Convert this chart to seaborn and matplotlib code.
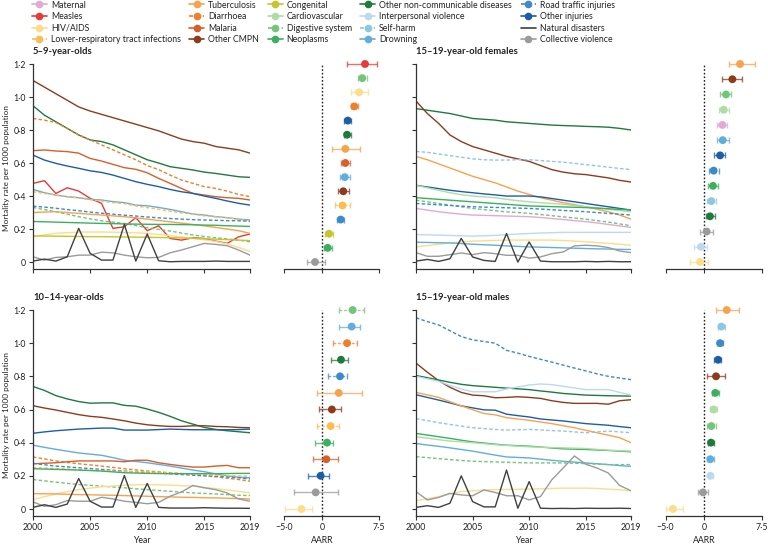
import numpy as np
import pandas as pd
import matplotlib
matplotlib.use("Agg")
import matplotlib.pyplot as plt
import seaborn as sns
from matplotlib.lines import Line2D
from matplotlib.ticker import FuncFormatter

sns.set_theme(style="ticks")
plt.rcParams['font.family'] = ['Lato', 'DejaVu Sans']

YEARS = list(range(2000, 2020))

# ---- 5-9-year-olds: mortality per 1000 ----
a59_other_cmpn = [1.10, 1.06, 1.02, 0.98, 0.94, 0.915, 0.895, 0.875, 0.855, 0.835, 0.815, 0.795, 0.77, 0.745, 0.73, 0.72, 0.70, 0.69, 0.68, 0.66]
a59_other_ncd = [0.947, 0.89, 0.85, 0.81, 0.77, 0.74, 0.73, 0.71, 0.68, 0.65, 0.62, 0.60, 0.578, 0.568, 0.558, 0.545, 0.537, 0.527, 0.517, 0.513]
a59_diarrhoea = [0.87, 0.86, 0.845, 0.81, 0.77, 0.74, 0.71, 0.68, 0.65, 0.62, 0.585, 0.56, 0.527, 0.497, 0.477, 0.457, 0.446, 0.43, 0.41, 0.396]
a59_malaria = [0.675, 0.679, 0.673, 0.669, 0.66, 0.628, 0.612, 0.592, 0.572, 0.562, 0.541, 0.507, 0.477, 0.446, 0.416, 0.406, 0.396, 0.39, 0.386, 0.376]
a59_other_inj = [0.648, 0.618, 0.598, 0.582, 0.568, 0.553, 0.543, 0.527, 0.507, 0.487, 0.471, 0.457, 0.44, 0.426, 0.416, 0.40, 0.386, 0.37, 0.356, 0.345]
a59_measles = [0.477, 0.493, 0.416, 0.45, 0.43, 0.386, 0.356, 0.204, 0.214, 0.269, 0.19, 0.22, 0.143, 0.133, 0.147, 0.143, 0.127, 0.113, 0.153, 0.17]
a59_drowning = [0.44, 0.42, 0.406, 0.396, 0.39, 0.38, 0.376, 0.366, 0.36, 0.345, 0.341, 0.331, 0.319, 0.305, 0.291, 0.285, 0.275, 0.269, 0.26, 0.255]
a59_lri = [0.426, 0.416, 0.406, 0.396, 0.388, 0.378, 0.37, 0.36, 0.354, 0.34, 0.33, 0.32, 0.308, 0.298, 0.29, 0.28, 0.274, 0.268, 0.258, 0.25]
a59_road = [0.339, 0.333, 0.326, 0.318, 0.311, 0.303, 0.296, 0.29, 0.284, 0.279, 0.273, 0.268, 0.264, 0.26, 0.257, 0.255, 0.253, 0.251, 0.25, 0.248]
a59_digestive = [0.331, 0.318, 0.305, 0.29, 0.275, 0.262, 0.25, 0.242, 0.234, 0.221, 0.208, 0.198, 0.188, 0.176, 0.164, 0.155, 0.147, 0.14, 0.133, 0.123]
a59_tb = [0.30, 0.303, 0.305, 0.30, 0.295, 0.29, 0.285, 0.28, 0.275, 0.268, 0.26, 0.252, 0.244, 0.236, 0.228, 0.219, 0.21, 0.20, 0.19, 0.174]
a59_neoplasms = [0.246, 0.244, 0.242, 0.24, 0.238, 0.236, 0.234, 0.233, 0.231, 0.23, 0.229, 0.228, 0.228, 0.227, 0.226, 0.224, 0.223, 0.22, 0.218, 0.216]
a59_hiv = [0.154, 0.165, 0.174, 0.178, 0.182, 0.182, 0.182, 0.181, 0.18, 0.177, 0.174, 0.167, 0.16, 0.152, 0.143, 0.135, 0.125, 0.11, 0.088, 0.065]
a59_congenital = [0.158, 0.158, 0.157, 0.156, 0.155, 0.154, 0.154, 0.153, 0.152, 0.151, 0.15, 0.149, 0.148, 0.146, 0.144, 0.141, 0.139, 0.136, 0.133, 0.13]
a59_collective = [0.032, 0.012, 0.028, 0.032, 0.042, 0.042, 0.06, 0.056, 0.042, 0.032, 0.026, 0.028, 0.056, 0.073, 0.093, 0.113, 0.107, 0.099, 0.073, 0.042]
a59_natural = [0.006, 0.018, 0.006, 0.032, 0.204, 0.053, 0.012, 0.012, 0.228, 0.006, 0.17, 0.008, 0.002, 0.004, 0.004, 0.004, 0.006, 0.004, 0.004, 0.004]

a59_aarr_causes = ["Measles", "Digestive system", "HIV/AIDS", "Diarrhoea", "Other injuries",
                   "Other non-communicable diseases", "Tuberculosis", "Malaria", "Drowning", "Other CMPN",
                   "Lower-respiratory tract infections", "Road traffic injuries", "Congenital", "Neoplasms",
                   "Collective violence"]
a59_aarr = [5.66, 5.3, 4.87, 4.25, 3.4, 3.3, 3.07, 3.07, 3.0, 2.8, 2.7, 2.46, 0.92, 0.75, -0.92]
a59_lo = [3.3, 4.8, 3.8, 3.8, 2.9, 2.85, 1.36, 2.46, 2.4, 2.15, 1.75, 2.0, 0.44, 0.3, -1.93]
a59_hi = [7.2, 5.9, 6.0, 4.8, 3.86, 3.8, 5.0, 3.73, 3.7, 3.6, 3.7, 2.9, 1.5, 1.27, 0.44]

# ---- 10-14-year-olds ----
a1014_other_ncd = [0.739, 0.715, 0.684, 0.664, 0.648, 0.638, 0.64, 0.64, 0.625, 0.62, 0.603, 0.583, 0.559, 0.532, 0.512, 0.492, 0.48, 0.472, 0.466, 0.46]
a1014_other_cmpn = [0.623, 0.609, 0.597, 0.583, 0.569, 0.559, 0.553, 0.543, 0.532, 0.518, 0.508, 0.502, 0.498, 0.498, 0.502, 0.502, 0.498, 0.496, 0.492, 0.49]
a1014_other_inj = [0.457, 0.465, 0.472, 0.477, 0.482, 0.485, 0.488, 0.488, 0.476, 0.476, 0.476, 0.479, 0.482, 0.48, 0.478, 0.478, 0.478, 0.478, 0.479, 0.482]
a1014_drowning = [0.385, 0.372, 0.36, 0.349, 0.338, 0.331, 0.324, 0.31, 0.294, 0.287, 0.279, 0.269, 0.259, 0.247, 0.235, 0.225, 0.212, 0.2, 0.192, 0.188]
a1014_diarrhoea = [0.314, 0.302, 0.29, 0.281, 0.273, 0.266, 0.259, 0.251, 0.243, 0.236, 0.229, 0.224, 0.219, 0.214, 0.209, 0.202, 0.194, 0.186, 0.178, 0.168]
a1014_malaria = [0.273, 0.276, 0.279, 0.285, 0.29, 0.29, 0.29, 0.29, 0.285, 0.294, 0.294, 0.279, 0.269, 0.26, 0.253, 0.253, 0.259, 0.263, 0.249, 0.249]
a1014_road = [0.275, 0.267, 0.259, 0.254, 0.249, 0.244, 0.239, 0.234, 0.229, 0.224, 0.219, 0.216, 0.213, 0.208, 0.204, 0.2, 0.198, 0.193, 0.188, 0.182]
a1014_lri = [0.25, 0.247, 0.244, 0.241, 0.238, 0.234, 0.231, 0.228, 0.226, 0.224, 0.223, 0.22, 0.217, 0.214, 0.211, 0.208, 0.205, 0.202, 0.2, 0.198]
a1014_neoplasms = [0.243, 0.241, 0.239, 0.237, 0.235, 0.232, 0.229, 0.224, 0.219, 0.217, 0.215, 0.214, 0.213, 0.213, 0.213, 0.213, 0.213, 0.214, 0.215, 0.215]
a1014_digestive = [0.178, 0.17, 0.162, 0.155, 0.148, 0.143, 0.138, 0.133, 0.128, 0.122, 0.117, 0.112, 0.107, 0.102, 0.097, 0.094, 0.091, 0.087, 0.083, 0.081]
a1014_hiv = [0.057, 0.074, 0.091, 0.104, 0.117, 0.126, 0.134, 0.139, 0.144, 0.146, 0.148, 0.146, 0.144, 0.141, 0.138, 0.131, 0.123, 0.115, 0.107, 0.097]
a1014_tb = [0.093, 0.092, 0.091, 0.089, 0.087, 0.086, 0.084, 0.083, 0.081, 0.079, 0.077, 0.075, 0.073, 0.071, 0.07, 0.068, 0.067, 0.065, 0.063, 0.061]
a1014_collective = [0.043, 0.016, 0.026, 0.051, 0.047, 0.047, 0.071, 0.061, 0.047, 0.04, 0.032, 0.04, 0.077, 0.103, 0.142, 0.128, 0.117, 0.097, 0.061, 0.047]
a1014_natural = [0.01, 0.026, 0.01, 0.03, 0.184, 0.047, 0.012, 0.012, 0.202, 0.01, 0.154, 0.01, 0.006, 0.006, 0.006, 0.008, 0.006, 0.005, 0.005, 0.004]

a1014_aarr_causes = ["Digestive system", "Drowning", "Diarrhoea", "Other non-communicable diseases",
                     "Road traffic injuries", "Tuberculosis", "Other CMPN", "Lower-respiratory tract infections",
                     "Neoplasms", "Malaria", "Other injuries", "Collective violence", "HIV/AIDS"]
a1014_aarr = [4.03, 3.9, 3.3, 2.5, 2.37, 2.2, 1.3, 1.14, 0.66, 0.57, -0.18, -0.83, -2.7]
a1014_lo = [2.2, 2.3, 1.5, 1.2, 0.83, -0.7, -0.4, -0.6, -0.9, -1.2, -1.8, -3.7, -4.87]
a1014_hi = [5.5, 5.0, 4.6, 3.46, 3.3, 5.2, 2.5, 2.3, 1.45, 2.1, 0.88, 2.1, -1.36]

# ---- 15-19-year-old females ----
f1519_other_ncd = [0.93, 0.92, 0.91, 0.90, 0.885, 0.87, 0.865, 0.86, 0.85, 0.845, 0.84, 0.835, 0.83, 0.827, 0.825, 0.822, 0.82, 0.817, 0.81, 0.80]
f1519_other_cmpn = [0.976, 0.9, 0.84, 0.77, 0.73, 0.70, 0.68, 0.66, 0.64, 0.625, 0.61, 0.585, 0.56, 0.545, 0.535, 0.53, 0.52, 0.51, 0.495, 0.485]
f1519_self_harm = [0.67, 0.665, 0.655, 0.645, 0.635, 0.625, 0.62, 0.618, 0.618, 0.62, 0.62, 0.615, 0.61, 0.605, 0.598, 0.59, 0.583, 0.575, 0.567, 0.56]
f1519_tb = [0.64, 0.62, 0.595, 0.57, 0.545, 0.52, 0.5, 0.48, 0.455, 0.43, 0.41, 0.39, 0.375, 0.36, 0.348, 0.335, 0.32, 0.305, 0.285, 0.26]
f1519_other_inj = [0.465, 0.455, 0.445, 0.435, 0.427, 0.42, 0.413, 0.407, 0.40, 0.40, 0.40, 0.395, 0.385, 0.375, 0.365, 0.355, 0.345, 0.335, 0.325, 0.315]
f1519_cardio = [0.465, 0.45, 0.435, 0.42, 0.408, 0.40, 0.395, 0.39, 0.38, 0.372, 0.365, 0.36, 0.355, 0.35, 0.342, 0.335, 0.328, 0.32, 0.312, 0.305]
f1519_neoplasms = [0.39, 0.385, 0.38, 0.375, 0.37, 0.365, 0.36, 0.355, 0.35, 0.345, 0.34, 0.338, 0.336, 0.334, 0.332, 0.33, 0.327, 0.323, 0.319, 0.315]
f1519_digestive = [0.375, 0.365, 0.355, 0.345, 0.335, 0.325, 0.318, 0.311, 0.304, 0.3, 0.295, 0.288, 0.281, 0.274, 0.267, 0.26, 0.251, 0.242, 0.231, 0.22]
f1519_road = [0.355, 0.351, 0.347, 0.343, 0.339, 0.335, 0.333, 0.331, 0.329, 0.327, 0.325, 0.321, 0.317, 0.313, 0.309, 0.305, 0.3, 0.295, 0.29, 0.285]
f1519_maternal = [0.325, 0.315, 0.305, 0.297, 0.29, 0.285, 0.283, 0.281, 0.279, 0.277, 0.275, 0.27, 0.264, 0.258, 0.251, 0.245, 0.237, 0.228, 0.219, 0.21]
f1519_interpersonal = [0.167, 0.165, 0.163, 0.161, 0.159, 0.157, 0.159, 0.162, 0.166, 0.17, 0.173, 0.176, 0.178, 0.18, 0.18, 0.18, 0.18, 0.18, 0.18, 0.18]
f1519_hiv = [0.092, 0.1, 0.108, 0.116, 0.122, 0.127, 0.129, 0.131, 0.133, 0.133, 0.133, 0.133, 0.133, 0.131, 0.127, 0.123, 0.118, 0.113, 0.108, 0.102]
f1519_drowning = [0.12, 0.119, 0.117, 0.116, 0.112, 0.108, 0.105, 0.102, 0.098, 0.095, 0.092, 0.09, 0.088, 0.086, 0.084, 0.082, 0.08, 0.079, 0.077, 0.076]
f1519_collective = [0.057, 0.035, 0.035, 0.045, 0.055, 0.045, 0.057, 0.051, 0.041, 0.041, 0.024, 0.031, 0.051, 0.061, 0.098, 0.102, 0.098, 0.088, 0.067, 0.057]
f1519_natural = [0.006, 0.016, 0.004, 0.02, 0.143, 0.031, 0.01, 0.004, 0.173, 0.0, 0.122, 0.006, 0.002, 0.002, 0.002, 0.004, 0.002, 0.004, 0.002, 0.002]

f1519_aarr_causes = ["Tuberculosis", "Other CMPN", "Digestive system", "Cardiovascular", "Maternal",
                     "Drowning", "Other injuries", "Road traffic injuries", "Neoplasms", "Self-harm",
                     "Other non-communicable diseases", "Collective violence", "Interpersonal violence", "HIV/AIDS"]
f1519_aarr = [4.7, 3.7, 2.87, 2.57, 2.4, 2.44, 2.1, 1.26, 1.17, 0.96, 0.78, 0.35, -0.4, -0.52]
f1519_lo = [3.2, 2.4, 2.1, 1.9, 1.7, 1.7, 1.35, 0.6, 0.52, 0.35, 0.26, -0.52, -1.27, -1.8]
f1519_hi = [6.7, 4.9, 3.56, 3.2, 3.04, 3.2, 2.8, 1.9, 1.8, 1.6, 1.4, 1.2, 0.43, 0.48]

# ---- 15-19-year-old males ----
m1519_road = [1.153, 1.13, 1.11, 1.075, 1.04, 1.02, 1.01, 1.0, 0.957, 0.94, 0.92, 0.903, 0.886, 0.868, 0.85, 0.833, 0.815, 0.80, 0.79, 0.78]
m1519_other_cmpn = [0.88, 0.825, 0.774, 0.734, 0.703, 0.687, 0.683, 0.671, 0.673, 0.677, 0.673, 0.667, 0.653, 0.643, 0.637, 0.637, 0.637, 0.632, 0.653, 0.659]
m1519_other_ncd = [0.805, 0.792, 0.778, 0.764, 0.752, 0.744, 0.739, 0.734, 0.729, 0.725, 0.72, 0.712, 0.705, 0.697, 0.692, 0.687, 0.685, 0.683, 0.682, 0.681]
m1519_interpersonal = [0.80, 0.785, 0.77, 0.745, 0.724, 0.707, 0.707, 0.707, 0.724, 0.736, 0.748, 0.754, 0.75, 0.74, 0.73, 0.72, 0.72, 0.72, 0.703, 0.687]
m1519_other_inj = [0.689, 0.673, 0.657, 0.64, 0.622, 0.61, 0.598, 0.596, 0.572, 0.563, 0.555, 0.543, 0.537, 0.531, 0.523, 0.515, 0.51, 0.505, 0.497, 0.49]
m1519_tb = [0.703, 0.688, 0.673, 0.647, 0.622, 0.599, 0.576, 0.568, 0.551, 0.543, 0.535, 0.525, 0.515, 0.502, 0.49, 0.475, 0.46, 0.445, 0.43, 0.40]
m1519_self_harm = [0.545, 0.533, 0.521, 0.51, 0.5, 0.49, 0.485, 0.48, 0.476, 0.478, 0.48, 0.477, 0.473, 0.47, 0.465, 0.46, 0.465, 0.47, 0.465, 0.46]
m1519_neoplasms = [0.456, 0.446, 0.436, 0.426, 0.415, 0.405, 0.398, 0.391, 0.385, 0.382, 0.379, 0.374, 0.368, 0.363, 0.361, 0.359, 0.356, 0.353, 0.349, 0.345]
m1519_cardio = [0.436, 0.427, 0.418, 0.41, 0.405, 0.40, 0.394, 0.388, 0.383, 0.379, 0.375, 0.373, 0.371, 0.369, 0.367, 0.365, 0.36, 0.355, 0.352, 0.349]
m1519_drowning = [0.395, 0.386, 0.378, 0.369, 0.359, 0.349, 0.337, 0.325, 0.314, 0.311, 0.308, 0.301, 0.294, 0.288, 0.283, 0.278, 0.273, 0.268, 0.262, 0.257]
m1519_digestive = [0.316, 0.31, 0.304, 0.298, 0.293, 0.288, 0.286, 0.284, 0.282, 0.28, 0.278, 0.278, 0.278, 0.278, 0.276, 0.274, 0.271, 0.268, 0.268, 0.268]
m1519_hiv = [0.05, 0.062, 0.075, 0.09, 0.105, 0.11, 0.115, 0.117, 0.118, 0.119, 0.12, 0.122, 0.124, 0.126, 0.126, 0.126, 0.124, 0.12, 0.116, 0.11]
m1519_collective = [0.105, 0.055, 0.07, 0.095, 0.085, 0.08, 0.115, 0.10, 0.08, 0.08, 0.055, 0.075, 0.176, 0.247, 0.32, 0.27, 0.247, 0.217, 0.142, 0.11]
m1519_natural = [0.01, 0.02, 0.01, 0.035, 0.2, 0.045, 0.013, 0.013, 0.235, 0.005, 0.165, 0.005, 0.003, 0.004, 0.003, 0.005, 0.004, 0.004, 0.005, 0.003]

m1519_aarr_causes = ["Tuberculosis", "Self-harm", "Road traffic injuries", "Other injuries", "Other CMPN",
                     "Neoplasms", "Cardiovascular", "Digestive system", "Other non-communicable diseases",
                     "Drowning", "Interpersonal violence", "Collective violence", "HIV/AIDS"]
m1519_aarr = [2.97, 2.27, 2.1, 1.84, 1.57, 1.48, 1.26, 0.96, 0.91, 0.82, 0.82, -0.13, -4.05]
m1519_lo = [1.57, 1.8, 1.75, 1.3, 0.35, 1.0, 0.78, 0.43, 0.56, 0.43, 0.52, -0.83, -5.0]
m1519_hi = [4.6, 2.76, 2.5, 2.27, 2.8, 1.9, 1.75, 1.52, 1.3, 1.26, 1.13, 0.56, -2.74]

# cause colours, legend order
LEGEND_ORDER = ["Maternal", "Measles", "HIV/AIDS", "Lower-respiratory tract infections",
                "Tuberculosis", "Diarrhoea", "Malaria", "Other CMPN",
                "Congenital", "Cardiovascular", "Digestive system", "Neoplasms",
                "Other non-communicable diseases", "Interpersonal violence", "Self-harm", "Drowning",
                "Road traffic injuries", "Other injuries", "Natural disasters", "Collective violence"]
COLORS = {
    "Maternal": "#e2a9d6", "Measles": "#e8393b", "HIV/AIDS": "#fddc8a",
    "Lower-respiratory tract infections": "#fbbd50", "Tuberculosis": "#f9a24c",
    "Diarrhoea": "#f07f2c", "Malaria": "#d75f29", "Other CMPN": "#8e3b1c",
    "Congenital": "#c3c62d", "Cardiovascular": "#addda4", "Digestive system": "#72c57a",
    "Neoplasms": "#3bb05e", "Other non-communicable diseases": "#1f7a3e",
    "Interpersonal violence": "#bcd9ef", "Self-harm": "#8ec7e2", "Drowning": "#62ade0",
    "Road traffic injuries": "#3d8ac9", "Other injuries": "#1c5da8",
    "Natural disasters": "#404040", "Collective violence": "#9b9b9b",
}
DASHED = {"Lower-respiratory tract infections", "Diarrhoea", "Digestive system",
          "Self-harm", "Road traffic injuries"}

panels = [
    ("5–9-year-olds", [
        ("Other CMPN", a59_other_cmpn), ("Other non-communicable diseases", a59_other_ncd),
        ("Diarrhoea", a59_diarrhoea), ("Malaria", a59_malaria), ("Other injuries", a59_other_inj),
        ("Measles", a59_measles), ("Drowning", a59_drowning), ("Lower-respiratory tract infections", a59_lri),
        ("Road traffic injuries", a59_road), ("Digestive system", a59_digestive), ("Tuberculosis", a59_tb),
        ("Neoplasms", a59_neoplasms), ("HIV/AIDS", a59_hiv), ("Congenital", a59_congenital),
        ("Collective violence", a59_collective), ("Natural disasters", a59_natural)],
     (a59_aarr_causes, a59_aarr, a59_lo, a59_hi)),
    ("15–19-year-old females", [
        ("Other non-communicable diseases", f1519_other_ncd), ("Other CMPN", f1519_other_cmpn),
        ("Self-harm", f1519_self_harm), ("Tuberculosis", f1519_tb), ("Other injuries", f1519_other_inj),
        ("Cardiovascular", f1519_cardio), ("Neoplasms", f1519_neoplasms), ("Digestive system", f1519_digestive),
        ("Road traffic injuries", f1519_road), ("Maternal", f1519_maternal),
        ("Interpersonal violence", f1519_interpersonal), ("HIV/AIDS", f1519_hiv), ("Drowning", f1519_drowning),
        ("Collective violence", f1519_collective), ("Natural disasters", f1519_natural)],
     (f1519_aarr_causes, f1519_aarr, f1519_lo, f1519_hi)),
    ("10–14-year-olds", [
        ("Other non-communicable diseases", a1014_other_ncd), ("Other CMPN", a1014_other_cmpn),
        ("Other injuries", a1014_other_inj), ("Drowning", a1014_drowning), ("Diarrhoea", a1014_diarrhoea),
        ("Malaria", a1014_malaria), ("Road traffic injuries", a1014_road),
        ("Lower-respiratory tract infections", a1014_lri), ("Neoplasms", a1014_neoplasms),
        ("Digestive system", a1014_digestive), ("HIV/AIDS", a1014_hiv), ("Tuberculosis", a1014_tb),
        ("Collective violence", a1014_collective), ("Natural disasters", a1014_natural)],
     (a1014_aarr_causes, a1014_aarr, a1014_lo, a1014_hi)),
    ("15–19-year-old males", [
        ("Road traffic injuries", m1519_road), ("Other CMPN", m1519_other_cmpn),
        ("Other non-communicable diseases", m1519_other_ncd), ("Interpersonal violence", m1519_interpersonal),
        ("Other injuries", m1519_other_inj), ("Tuberculosis", m1519_tb), ("Self-harm", m1519_self_harm),
        ("Neoplasms", m1519_neoplasms), ("Cardiovascular", m1519_cardio), ("Drowning", m1519_drowning),
        ("Digestive system", m1519_digestive), ("HIV/AIDS", m1519_hiv),
        ("Collective violence", m1519_collective), ("Natural disasters", m1519_natural)],
     (m1519_aarr_causes, m1519_aarr, m1519_lo, m1519_hi)),
]

AX_COLOR = "#333333"
FS = 6.3


def dec(v, pos=None):
    if abs(v) < 1e-9:
        return "0"
    return "{0:.1f}".format(v).replace(".", "·").replace("-", "−")


def style_axis(ax):
    for s in ["top", "right"]:
        ax.spines[s].set_visible(False)
    for s in ["left", "bottom"]:
        ax.spines[s].set_color(AX_COLOR)
        ax.spines[s].set_linewidth(0.9)
    ax.tick_params(direction="out", length=3, width=0.8, color=AX_COLOR,
                   labelsize=FS, labelcolor="#222222", pad=2)


def draw_lines(ax, title, series, left_col, bottom_row):
    rows = []
    for cause, vals in series:
        for yr, v in zip(YEARS, vals):
            rows.append((cause, yr, v))
    df = pd.DataFrame(rows, columns=["cause", "year", "rate"])
    order = [c for c, _ in series]
    sns.lineplot(data=df, x="year", y="rate", hue="cause", hue_order=order,
                 palette={c: COLORS[c] for c in order}, style="cause", style_order=order,
                 dashes={c: (2.5, 1.6) if c in DASHED else "" for c in order},
                 linewidth=1.0, estimator=None, legend=False, ax=ax)
    ax.set_xlim(2000, 2019)
    ax.set_ylim(-0.042, 1.2)
    ax.set_xticks([2000, 2005, 2010, 2015, 2019])
    ax.set_yticks([0, 0.2, 0.4, 0.6, 0.8, 1.0, 1.2])
    ax.yaxis.set_major_formatter(FuncFormatter(dec))
    style_axis(ax)
    ax.set_title(title, loc="left", fontsize=6.8, fontweight="bold", pad=7, color="#222222")
    if left_col:
        ax.set_ylabel("Mortality rate per 1000 population", fontsize=5.9, color="#222222")
        ax.yaxis.set_label_coords(-23 / 217, 0.49)
    else:
        ax.set_ylabel("")
        ax.tick_params(labelleft=False)
    if bottom_row:
        ax.set_xlabel("Year", fontsize=FS, color="#222222", labelpad=3)
    else:
        ax.set_xlabel("")
        ax.tick_params(labelbottom=False)


def draw_aarr(ax, causes, est, lo, hi, bottom_row):
    n = len(causes)
    for i, c in enumerate(causes):
        eb = ax.errorbar(est[i], i, xerr=[[est[i] - lo[i]], [hi[i] - est[i]]], fmt="none",
                         ecolor=COLORS[c], alpha=0.75, elinewidth=1.0, capsize=2.2, capthick=1.0,
                         clip_on=False, zorder=2)
        if c in DASHED:
            eb[2][0].set_linestyle((0, (2, 1.3)))
    df = pd.DataFrame({"cause": causes, "aarr": est, "row": np.arange(n)})
    sns.scatterplot(data=df, x="aarr", y="row", hue="cause", hue_order=causes,
                    palette={c: COLORS[c] for c in causes}, s=32, edgecolor="none",
                    legend=False, ax=ax, clip_on=False, zorder=3)
    ax.axvline(0, color="#222222", lw=1.0, ls=(0, (1.2, 1.4)), zorder=1)
    ax.set_xlim(-7.5, 7.5)
    ax.set_ylim((n - 1) * 205 / 198, 0)
    ax.set_yticks([])
    ax.set_xticks([-5, 0, 7.5])
    ax.xaxis.set_major_formatter(FuncFormatter(dec))
    style_axis(ax)
    ax.spines["left"].set_visible(False)
    ax.spines["bottom"].set_bounds(-5, 7.5)
    ax.set_ylabel("")
    if bottom_row:
        ax.set_xlabel("AARR", fontsize=FS, color="#222222", labelpad=3)
    else:
        ax.set_xlabel("")
        ax.tick_params(labelbottom=False)


W, H = 768, 544
fig = plt.figure(figsize=(W / 100, H / 100), dpi=100)

row_box = [(64, 269), (310, 516)]
col_line = [(33, 250), (416, 631)]
col_dots = [(265, 379), (646.5, 761.5)]

for k, (title, series, aarr) in enumerate(panels):
    r, c = divmod(k, 2)
    top, bot = row_box[r]
    x0, x1 = col_line[c]
    ax = fig.add_axes([x0 / W, (H - bot) / H, (x1 - x0) / W, (bot - top) / H])
    draw_lines(ax, title, series, left_col=(c == 0), bottom_row=(r == 1))
    d0, d1 = col_dots[c]
    axd = fig.add_axes([d0 / W, (H - bot) / H, (d1 - d0) / W, (bot - top) / H])
    axd.patch.set_alpha(0)
    draw_aarr(axd, *aarr, bottom_row=(r == 1))

handles = []
for cause in LEGEND_ORDER:
    ls = (0, (2.5, 1.6)) if cause in DASHED else "-"
    mk = None if cause == "Natural disasters" else "o"
    handles.append(Line2D([], [], color=COLORS[cause], lw=1.2, ls=ls, marker=mk, markersize=4.5))
fig.legend(handles, LEGEND_ORDER, ncol=5, loc="upper left", bbox_to_anchor=(32 / W, 1.0 - 0.5 / H),
           frameon=False, fontsize=FS, handlelength=1.7, handletextpad=0.45,
           columnspacing=1.0, labelspacing=0.3, borderpad=0, borderaxespad=0,
           labelcolor="#222222")

fig.savefig("out.png", dpi=100)
